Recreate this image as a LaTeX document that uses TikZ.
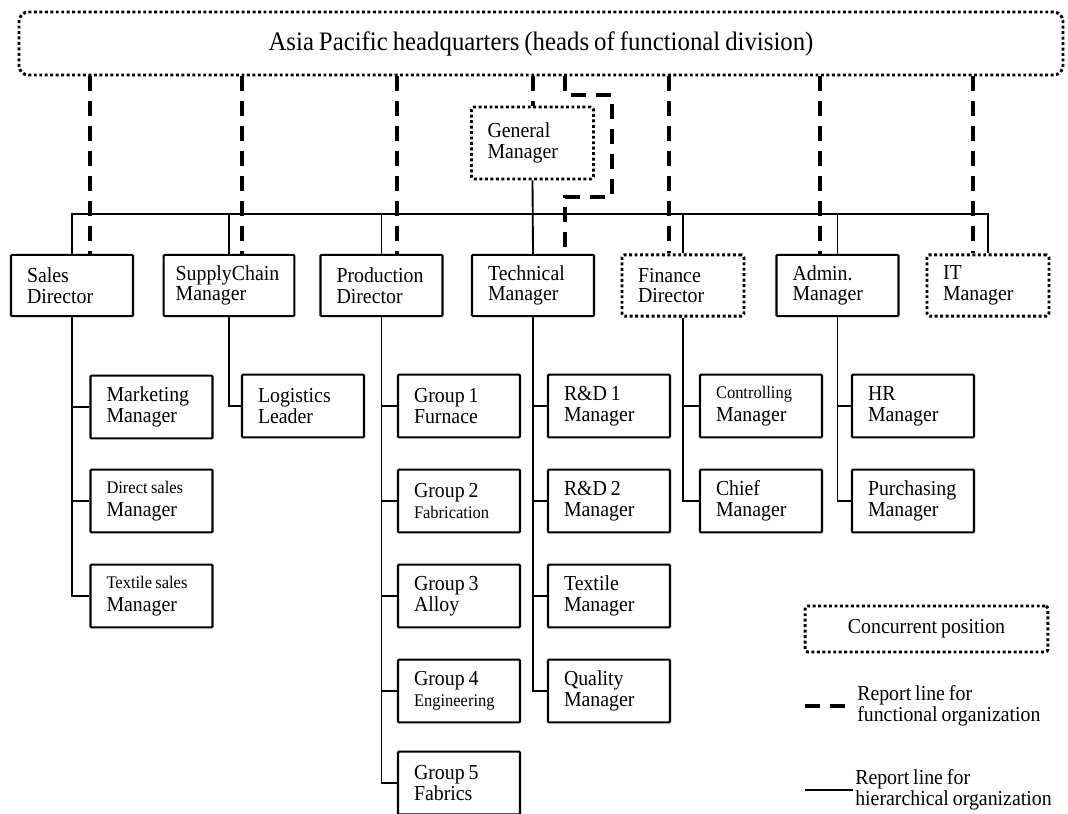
\documentclass[tikz,border=0pt]{standalone}
\usepackage{fontspec}
\setmainfont{Liberation Serif}[FakeStretch=0.93, WordSpace=0.8]
\usepackage{tikz}

\newcommand{\boxfont}{\fontsize{16}{15.5}\selectfont}
\newcommand{\smallline}{\fontsize{13.3}{13.3}\selectfont}

\begin{document}
\begin{tikzpicture}[x=0.75pt, y=-0.75pt,
  posbox/.style={draw, line width=1.6pt, rounded corners=0.8pt, font=\boxfont, align=flush left,
    text width=67.5pt, inner xsep=12pt, inner ysep=0pt, minimum height=47pt},
  concbox/.style={posbox, line width=2.2pt, dash pattern=on 2.2pt off 1.9pt, rounded corners=2pt},
  orgline/.style={line width=1.4pt},
  funcline/.style={line width=3pt, dash pattern=on 11.25pt off 7.5pt}]
\useasboundingbox (0,0) rectangle (1068,814);

% headquarters and general manager
\node[concbox, text width=759pt, align=flush center, minimum height=47.25pt, rounded corners=7pt,
  font=\fontsize{20}{20}\selectfont] (hq) at (541,43.5) {Asia Pacific headquarters (heads of functional division)};
\node[concbox, minimum height=54pt] (gm) at (532.5,143) {General\\Manager};

% directors
\node[posbox, minimum height=46pt] (sales) at (72,285.5) {Sales\\Director};
\node[posbox, minimum height=46pt, text width=80pt, inner xsep=9pt] (supply) at (229,285.5) {SupplyChain\\Manager};
\node[posbox, minimum height=46pt] (prod) at (381.5,285.5) {Production\\Director};
\node[posbox, minimum height=46pt] (tech) at (533,285.5) {Technical\\Manager};
\node[concbox, minimum height=46pt] (fin) at (683,285.5) {Finance\\Director};
\node[posbox, minimum height=46pt] (admin) at (837.5,285.5) {Admin.\\Manager};
\node[concbox, minimum height=46pt] (it) at (988,285.5) {IT\\Manager};

% sales
\node[posbox] (mkt) at (151.5,407) {Marketing\\Manager};
\node[posbox] (dsm) at (151.5,501) {{\smallline Direct sales}\\[2pt]Manager};
\node[posbox] (tsm) at (151.5,596) {{\smallline Textile sales}\\[2pt]Manager};
% supply chain
\node[posbox] (logi) at (303,406) {Logistics\\Leader};
% production
\node[posbox] (grp1) at (459,406) {Group 1\\Furnace};
\node[posbox] (grp2) at (459,501) {Group 2\\{\smallline Fabrication}};
\node[posbox] (grp3) at (459,596) {Group 3\\Alloy};
\node[posbox] (grp4) at (459,691) {Group 4\\{\smallline Engineering}};
\node[posbox] (grp5) at (459,783) {Group 5\\Fabrics};
% technical
\node[posbox] (rd1) at (609,406) {R\&D 1\\Manager};
\node[posbox] (rd2) at (609,501) {R\&D 2\\Manager};
\node[posbox] (txm) at (609,596) {Textile\\Manager};
\node[posbox] (qual) at (609,691) {Quality\\Manager};
% finance
\node[posbox] (ctrl) at (761,406) {{\smallline Controlling}\\[2pt]Manager};
\node[posbox] (chief) at (761,501) {Chief\\Manager};
% admin
\node[posbox] (hrm) at (913,406) {HR\\Manager};
\node[posbox] (purch) at (913,501) {Purchasing\\Manager};

% hierarchical lines
\coordinate (bus) at (533,214);
\draw[orgline] (sales.north) |- (bus) -| (it.north);
\foreach \d in {supply,prod,fin,admin}
  \draw[orgline] (\d.north) -- (\d.north |- bus);
\draw[orgline] (gm.south) -- (tech.north);

\draw[orgline] (sales.south) |- (tsm.west);
\draw[orgline] (sales.south |- mkt.west) -- (mkt.west);
\draw[orgline] (sales.south |- dsm.west) -- (dsm.west);
\draw[orgline] (supply.south) |- (logi.west);
\draw[orgline] (prod.south) |- (grp5.west);
\foreach \c in {grp1,grp2,grp3,grp4}
  \draw[orgline] (prod.south |- \c.west) -- (\c.west);
\draw[orgline] (tech.south) |- (qual.west);
\foreach \c in {rd1,rd2,txm}
  \draw[orgline] (tech.south |- \c.west) -- (\c.west);
\draw[orgline] (fin.south) |- (chief.west);
\draw[orgline] (fin.south |- ctrl.west) -- (ctrl.west);
\draw[orgline] (admin.south) |- (purch.west);
\draw[orgline] (admin.south |- hrm.west) -- (hrm.west);

% functional lines
\foreach \x/\d in {90/sales, 242/supply, 397/prod, 669/fin, 820/admin, 973/it}
  \draw[funcline] (\x,0 |- hq.south) -- (\x,0 |- \d.north);
\draw[funcline] (gm.north |- hq.south) -- (gm.north);
\draw[funcline] (565,0 |- hq.south) |- (612,95) -- (612,197) -| (565,0 |- tech.north);

% legend
\node[concbox, text width=158pt, align=flush center, minimum height=34.5pt] (legconc) at (926.5,629) {Concurrent position};
\node[anchor=west, align=left, inner sep=0pt, font=\boxfont] (legfunc) at (857,706) {Report line for\\functional organization};
\draw[funcline] (legfunc.west) ++(-52,0) -- ++(41,0);
\node[anchor=west, align=left, inner sep=0pt, font=\boxfont] (leghier) at (855,790) {Report line for\\hierarchical organization};
\draw[orgline] (leghier.west) ++(-50,0) -- ++(48,0);
\end{tikzpicture}
\end{document}
